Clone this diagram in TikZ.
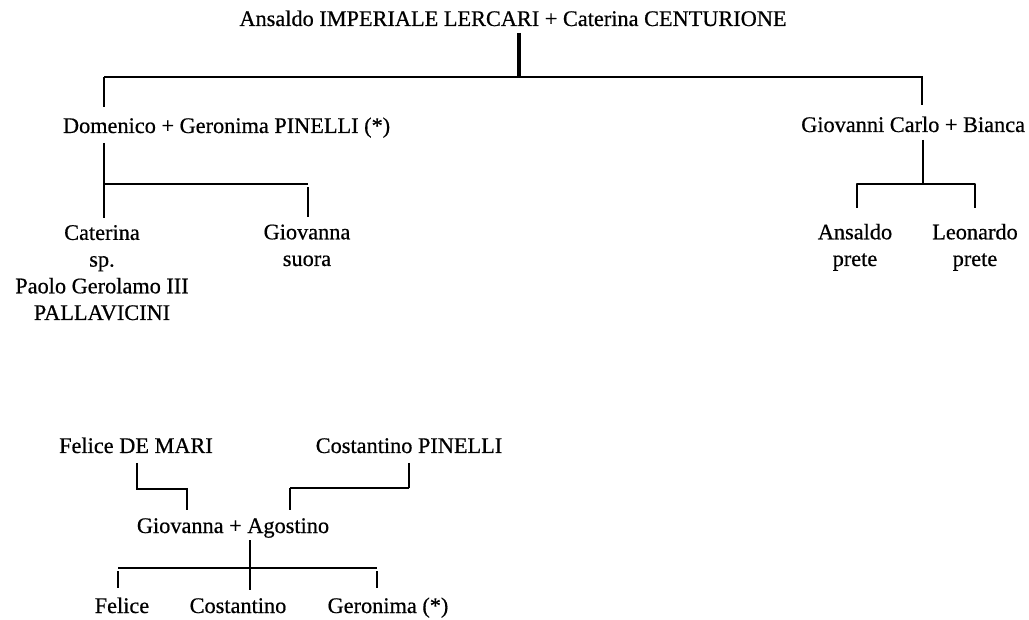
\documentclass[tikz,border=0pt]{standalone}
\usepackage{fontspec}
\setmainfont{Liberation Serif}
\newfontfamily\treefont{Liberation Serif}[BoldFont={Liberation Serif}, BoldFeatures={FakeBold=0.6}]
\begin{document}
\begin{tikzpicture}[x=1pt,y=-1pt]
\tikzset{
  person/.style={font=\treefont\bfseries\fontsize{22.3pt}{26.7pt}\selectfont, inner sep=0pt, outer sep=0pt, align=center, anchor=base},
  line/.style={line width=1.5pt},
  stub/.style={line width=2.3pt},
  mainstub/.style={line width=3.2pt},
}
\useasboundingbox (0,0) rectangle (1029,620);

% people (multi-line names are placed by the baseline of their last line)
\node[person] (top) at (513,26) {Ansaldo IMPERIALE LERCARI + Caterina CENTURIONE};
\node[person, anchor=base west] (dom) at (63,133) {Domenico + Geronima PINELLI (*)};
\node[person, anchor=base east] (gc) at (1025,132) {Giovanni Carlo + Bianca};
\node[person] (cat) at (102,320) {Caterina\\sp.\\Paolo Gerolamo III\\PALLAVICINI};
\node[person] (gva) at (307,266) {Giovanna\\suora};
\node[person] (ans) at (855,266) {Ansaldo\\prete};
\node[person] (leo) at (975,266) {Leonardo\\prete};
\node[person] (fdm) at (136,453) {Felice DE MARI};
\node[person] (cp) at (409,453) {Costantino PINELLI};
\node[person] (ga) at (233,533) {Giovanna + Agostino};
\node[person] (fel) at (122,613) {Felice};
\node[person] (cos) at (238,613) {Costantino};
\node[person] (ger) at (388,613) {Geronima (*)};

% junction points
\coordinate (t1) at (519,33);  \coordinate (t2) at (519,76);
\coordinate (bL) at (104,77);  \coordinate (bR) at (923,77);
\coordinate (d1) at (104,107); \coordinate (g1) at (922,105); \coordinate (g0) at (922,77);
\coordinate (e0) at (104,143); \coordinate (e1) at (104,218);
\coordinate (eh) at (104,184); \coordinate (er) at (308,184);
\coordinate (s0) at (308,187); \coordinate (s1) at (308,217);
\coordinate (f0) at (923,140); \coordinate (f1) at (923,184);
\coordinate (fl0) at (857,208); \coordinate (fl1) at (857,184);
\coordinate (fr1) at (975,184); \coordinate (fr0) at (975,208);
\coordinate (m0) at (137,463); \coordinate (m1) at (137,489);
\coordinate (m2) at (187,489); \coordinate (m3) at (187,510);
\coordinate (p0) at (409,463); \coordinate (p1) at (409,488);
\coordinate (p2) at (290,488); \coordinate (p3) at (290,510);
\coordinate (a0) at (250,540); \coordinate (a1) at (250,590);
\coordinate (hL) at (118,568); \coordinate (hR) at (377,568);
\coordinate (l0) at (118,571); \coordinate (l1) at (118,588);
\coordinate (r0) at (377,571); \coordinate (r1) at (377,588);

% first generation
\draw[mainstub] (t1) -- (t2);
\draw[line] (bL) -- (bR);
\draw[stub] (bL) -- (d1);
\draw[stub] (g0) -- (g1);

% children of Domenico
\draw[stub] (e0) -- (e1);
\draw[line] (eh) -- (er);
\draw[stub] (s0) -- (s1);

% children of Giovanni Carlo
\draw[stub] (f0) -- (f1);
\draw[stub, line join=round] (fl0) -- (fl1) -- (fr1) -- (fr0);

% parents of Giovanna and Agostino
\draw[stub] (m0) -- (m1) -- (m2) -- (m3);
\draw[stub] (p0) -- (p1);
\draw[line] (p1) -- (p2);
\draw[stub] (p2) -- (p3);

% their children
\draw[stub] (a0) -- (a1);
\draw[line] (hL) -- (hR);
\draw[stub] (l0) -- (l1);
\draw[stub] (r0) -- (r1);
\end{tikzpicture}
\end{document}
